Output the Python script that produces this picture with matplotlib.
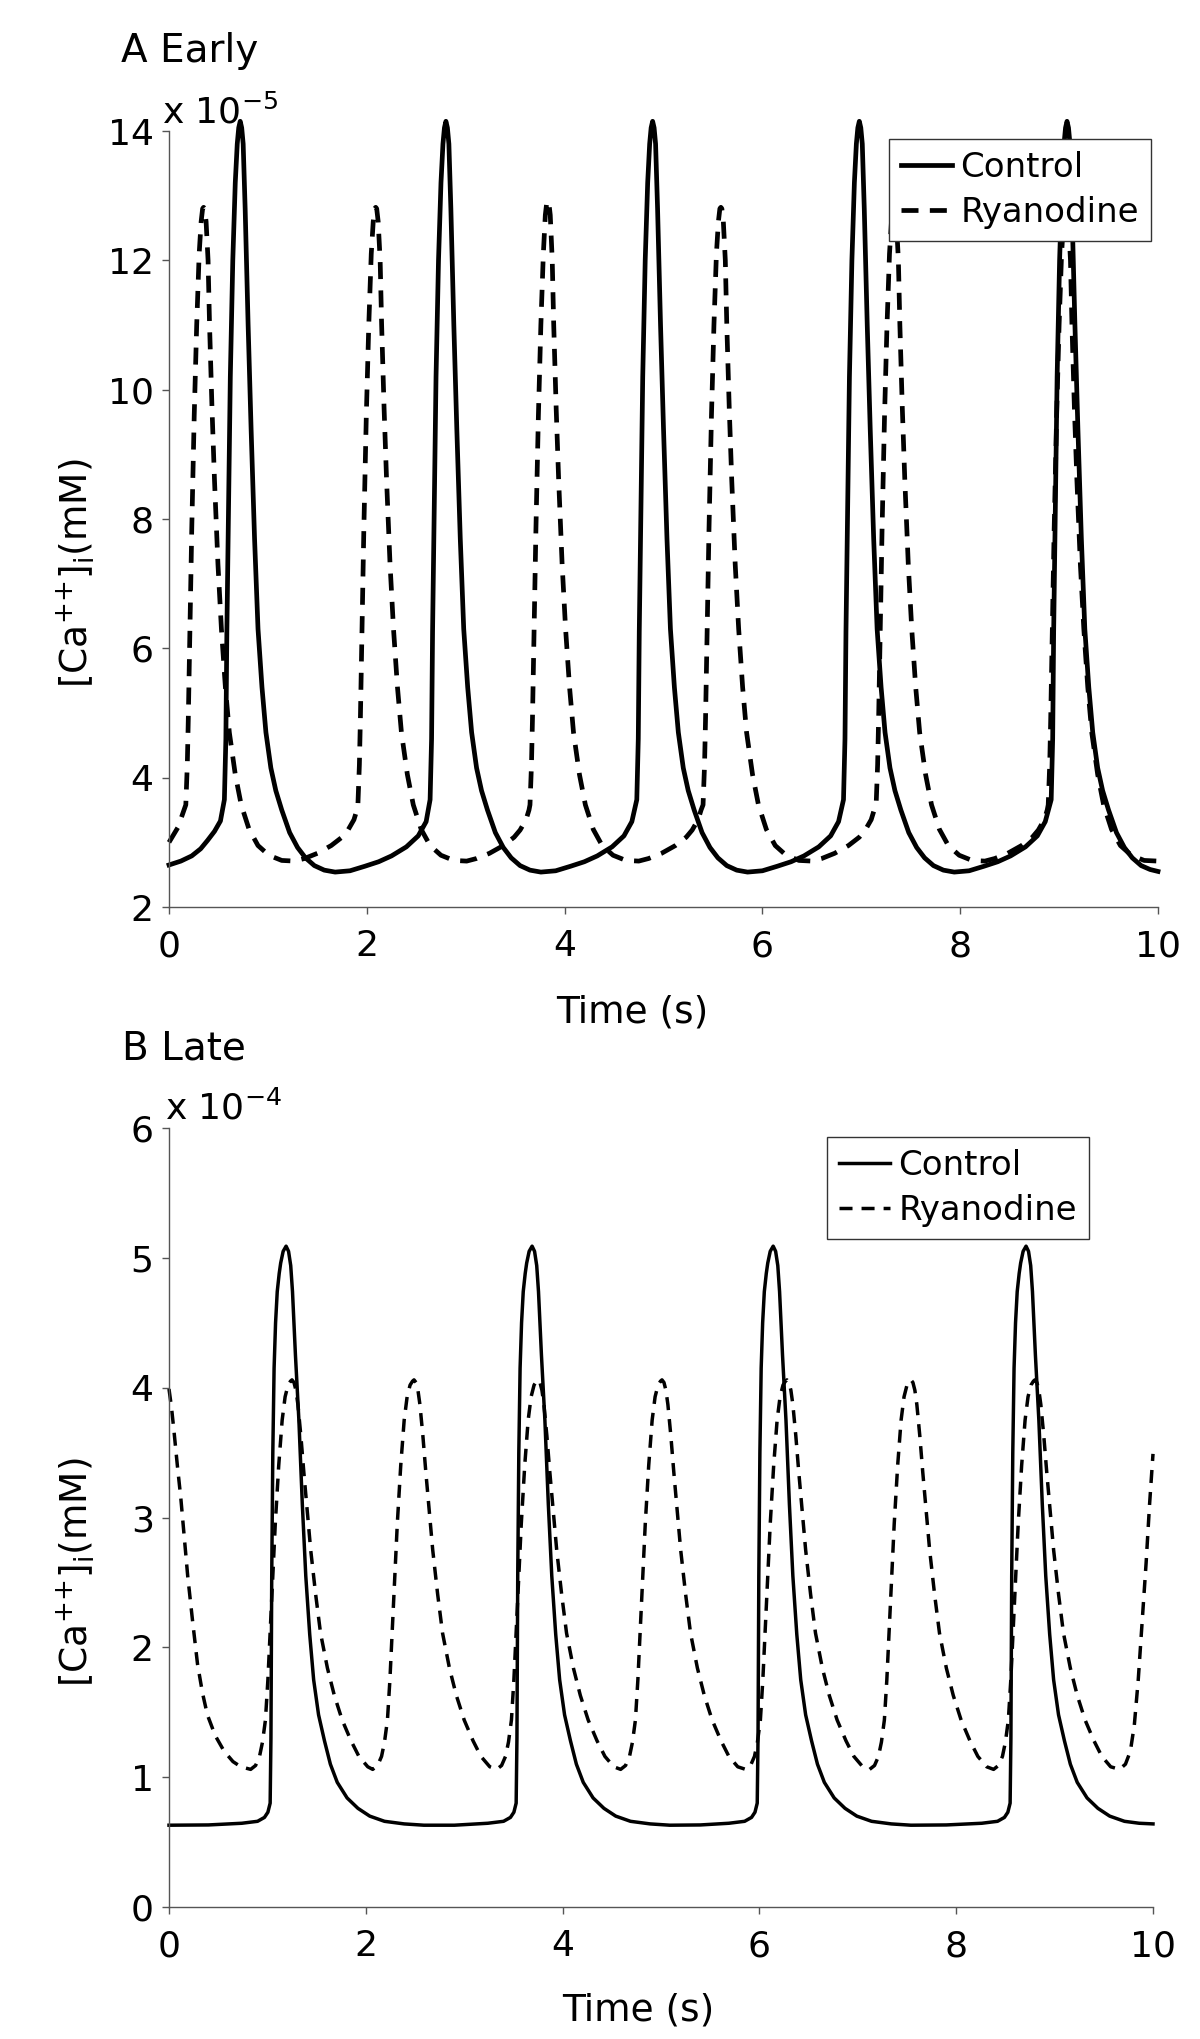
import numpy as np
import matplotlib
matplotlib.use("Agg")
import matplotlib.pyplot as plt

plt.rcParams['font.family'] = ['DejaVu Sans']
plt.rcParams['mathtext.fontset'] = 'dejavusans'

# panel A values are in units of 1e-5 mM, panel B in 1e-4 mM
control_a = [
    (0.00, 2.65), (0.12, 2.71), (0.23, 2.79), (0.32, 2.90), (0.39, 3.03), (0.46, 3.17), (0.52, 3.33),
    (0.56, 3.66), (0.575, 4.6), (0.585, 6.26), (0.605, 8.5), (0.62, 10.2), (0.645, 12.0), (0.67, 13.2),
    (0.69, 13.8), (0.705, 14.05), (0.72, 14.15), (0.735, 14.05), (0.75, 13.8), (0.77, 12.8), (0.80, 11.0),
    (0.83, 9.4), (0.865, 7.7), (0.90, 6.3), (0.94, 5.4), (0.98, 4.7), (1.03, 4.15), (1.08, 3.8),
    (1.14, 3.5), (1.22, 3.15), (1.30, 2.92), (1.38, 2.76), (1.47, 2.64), (1.57, 2.57), (1.68, 2.54),
    (1.83, 2.56), (1.98, 2.63), (2.12, 2.70), (2.25, 2.79), (2.40, 2.93), (2.52, 3.10), (2.60, 3.32),
    (2.64, 3.66), (2.655, 4.6), (2.665, 6.26), (2.685, 8.5), (2.70, 10.2), (2.725, 12.0), (2.75, 13.2),
    (2.77, 13.8), (2.785, 14.05), (2.80, 14.15), (2.815, 14.05), (2.83, 13.8), (2.85, 12.8), (2.88, 11.0),
    (2.91, 9.4), (2.945, 7.7), (2.98, 6.3), (3.02, 5.4), (3.06, 4.7), (3.11, 4.15), (3.16, 3.8),
    (3.22, 3.5), (3.30, 3.15), (3.38, 2.92), (3.46, 2.76), (3.55, 2.64), (3.65, 2.57), (3.76, 2.54),
    (3.91, 2.56), (4.06, 2.63), (4.20, 2.70), (4.33, 2.79), (4.48, 2.93), (4.60, 3.10), (4.68, 3.32),
    (4.73, 3.66), (4.745, 4.6), (4.755, 6.26), (4.775, 8.5), (4.79, 10.2), (4.815, 12.0), (4.84, 13.2),
    (4.86, 13.8), (4.875, 14.05), (4.89, 14.15), (4.905, 14.05), (4.92, 13.8), (4.94, 12.8), (4.97, 11.0),
    (5.00, 9.4), (5.035, 7.7), (5.07, 6.3), (5.11, 5.4), (5.15, 4.7), (5.20, 4.15), (5.25, 3.8),
    (5.31, 3.5), (5.39, 3.15), (5.47, 2.92), (5.55, 2.76), (5.64, 2.64), (5.74, 2.57), (5.85, 2.54),
    (6.00, 2.56), (6.15, 2.63), (6.29, 2.70), (6.42, 2.79), (6.57, 2.93), (6.69, 3.10), (6.77, 3.32),
    (6.82, 3.66), (6.835, 4.6), (6.845, 6.26), (6.865, 8.5), (6.88, 10.2), (6.905, 12.0), (6.93, 13.2),
    (6.95, 13.8), (6.965, 14.05), (6.98, 14.15), (6.995, 14.05), (7.01, 13.8), (7.03, 12.8), (7.06, 11.0),
    (7.09, 9.4), (7.125, 7.7), (7.16, 6.3), (7.20, 5.4), (7.24, 4.7), (7.29, 4.15), (7.34, 3.8),
    (7.40, 3.5), (7.48, 3.15), (7.56, 2.92), (7.64, 2.76), (7.73, 2.64), (7.83, 2.57), (7.94, 2.54),
    (8.09, 2.56), (8.24, 2.63), (8.38, 2.70), (8.51, 2.79), (8.66, 2.93), (8.78, 3.10), (8.86, 3.32),
    (8.92, 3.66), (8.935, 4.6), (8.945, 6.26), (8.965, 8.5), (8.98, 10.2), (9.005, 12.0), (9.03, 13.2),
    (9.05, 13.8), (9.065, 14.05), (9.08, 14.15), (9.095, 14.05), (9.11, 13.8), (9.13, 12.8), (9.16, 11.0),
    (9.19, 9.4), (9.225, 7.7), (9.26, 6.3), (9.30, 5.4), (9.34, 4.7), (9.39, 4.15), (9.44, 3.8),
    (9.50, 3.5), (9.58, 3.15), (9.66, 2.92), (9.74, 2.76), (9.83, 2.64), (9.92, 2.58), (10.0, 2.55),
]

ryanodine_a = [
    (0.00, 3.0), (0.09, 3.23),
    (0.17, 3.58), (0.185, 4.2), (0.195, 4.9), (0.21, 6.2), (0.23, 7.84), (0.255, 9.6), (0.28, 11.0),
    (0.305, 12.1), (0.325, 12.6), (0.34, 12.8), (0.35, 12.82), (0.36, 12.8), (0.375, 12.6), (0.395, 12.0),
    (0.41, 11.0), (0.435, 9.7), (0.46, 8.6), (0.495, 7.3), (0.53, 6.3), (0.57, 5.4), (0.61, 4.7),
    (0.67, 4.05), (0.73, 3.58), (0.81, 3.2), (0.90, 2.95), (1.01, 2.80), (1.14, 2.72), (1.27, 2.71),
    (1.37, 2.75), (1.50, 2.83), (1.64, 2.95), (1.75, 3.08), (1.81, 3.19), (1.87, 3.35), (1.90, 3.5),
    (1.91, 3.58), (1.925, 4.2), (1.935, 4.9), (1.95, 6.2), (1.97, 7.84), (1.995, 9.6), (2.02, 11.0),
    (2.045, 12.1), (2.065, 12.6), (2.08, 12.8), (2.09, 12.82), (2.10, 12.8), (2.115, 12.6), (2.135, 12.0),
    (2.15, 11.0), (2.175, 9.7), (2.20, 8.6), (2.235, 7.3), (2.27, 6.3), (2.31, 5.4), (2.35, 4.7),
    (2.41, 4.05), (2.47, 3.58), (2.55, 3.2), (2.64, 2.95), (2.75, 2.80), (2.88, 2.72), (3.01, 2.71),
    (3.11, 2.75), (3.24, 2.83), (3.38, 2.95), (3.49, 3.08), (3.55, 3.19), (3.61, 3.35), (3.64, 3.5),
    (3.65, 3.58), (3.665, 4.2), (3.675, 4.9), (3.69, 6.2), (3.71, 7.84), (3.735, 9.6), (3.76, 11.0),
    (3.785, 12.1), (3.805, 12.7), (3.82, 12.9), (3.83, 12.92), (3.84, 12.9), (3.855, 12.7), (3.875, 12.0),
    (3.89, 11.0), (3.915, 9.7), (3.94, 8.6), (3.975, 7.3), (4.01, 6.3), (4.05, 5.4), (4.09, 4.7),
    (4.15, 4.05), (4.21, 3.58), (4.29, 3.2), (4.38, 2.95), (4.49, 2.80), (4.62, 2.72), (4.75, 2.71),
    (4.85, 2.75), (4.98, 2.83), (5.12, 2.95), (5.23, 3.08), (5.29, 3.19), (5.35, 3.35), (5.38, 3.5),
    (5.40, 3.58), (5.415, 4.2), (5.425, 4.9), (5.44, 6.2), (5.46, 7.84), (5.485, 9.6), (5.51, 11.0),
    (5.535, 12.1), (5.555, 12.6), (5.57, 12.8), (5.58, 12.82), (5.59, 12.8), (5.605, 12.6), (5.625, 12.0),
    (5.64, 11.0), (5.665, 9.7), (5.69, 8.6), (5.725, 7.3), (5.76, 6.3), (5.80, 5.4), (5.84, 4.7),
    (5.90, 4.05), (5.96, 3.58), (6.04, 3.2), (6.13, 2.95), (6.24, 2.80), (6.37, 2.72), (6.50, 2.71),
    (6.60, 2.75), (6.73, 2.83), (6.87, 2.95), (6.98, 3.08), (7.04, 3.19), (7.10, 3.35), (7.13, 3.5),
    (7.15, 3.58), (7.165, 4.2), (7.175, 4.9), (7.19, 6.2), (7.21, 7.84), (7.235, 9.6), (7.26, 11.0),
    (7.285, 12.1), (7.305, 12.6), (7.32, 12.8), (7.33, 12.82), (7.34, 12.8), (7.355, 12.6), (7.375, 12.0),
    (7.39, 11.0), (7.415, 9.7), (7.44, 8.6), (7.475, 7.3), (7.51, 6.3), (7.55, 5.4), (7.59, 4.7),
    (7.65, 4.05), (7.71, 3.58), (7.79, 3.2), (7.88, 2.95), (7.99, 2.80), (8.12, 2.72), (8.25, 2.71),
    (8.35, 2.75), (8.48, 2.83), (8.62, 2.95), (8.73, 3.08), (8.79, 3.19), (8.85, 3.35), (8.88, 3.5),
    (8.89, 3.58), (8.905, 4.2), (8.915, 4.9), (8.93, 6.2), (8.95, 7.84), (8.975, 9.6), (9.00, 11.0),
    (9.025, 12.1), (9.045, 12.6), (9.06, 12.8), (9.07, 12.82), (9.08, 12.8), (9.095, 12.6), (9.115, 12.0),
    (9.13, 11.0), (9.155, 9.7), (9.18, 8.6), (9.215, 7.3), (9.25, 6.3), (9.29, 5.4), (9.33, 4.7),
    (9.39, 4.05), (9.45, 3.58), (9.53, 3.2), (9.62, 2.95), (9.73, 2.80), (9.86, 2.72), (10.0, 2.71),
]

control_b = [
    (0.00, 0.63), (0.40, 0.632), (0.74, 0.645),
    (0.90, 0.66), (0.97, 0.69), (1.005, 0.73), (1.028, 0.80), (1.036, 1.3), (1.044, 2.55), (1.055, 3.5),
    (1.068, 4.15), (1.083, 4.5), (1.10, 4.74), (1.12, 4.88), (1.135, 4.96), (1.16, 5.05), (1.19, 5.09),
    (1.215, 5.05), (1.237, 4.94), (1.255, 4.74), (1.285, 4.25), (1.32, 3.75), (1.355, 3.1), (1.39, 2.55),
    (1.43, 2.1), (1.47, 1.75), (1.52, 1.48), (1.58, 1.28), (1.64, 1.1), (1.71, 0.96), (1.81, 0.84),
    (1.92, 0.76), (2.04, 0.70), (2.19, 0.66), (2.39, 0.64), (2.59, 0.63), (2.90, 0.63), (3.24, 0.645),
    (3.40, 0.66), (3.47, 0.69), (3.505, 0.73), (3.528, 0.80), (3.536, 1.3), (3.544, 2.55), (3.555, 3.5),
    (3.568, 4.15), (3.583, 4.5), (3.60, 4.74), (3.62, 4.88), (3.635, 4.96), (3.66, 5.05), (3.69, 5.09),
    (3.715, 5.05), (3.737, 4.94), (3.755, 4.74), (3.785, 4.25), (3.82, 3.75), (3.855, 3.1), (3.89, 2.55),
    (3.93, 2.1), (3.97, 1.75), (4.02, 1.48), (4.08, 1.28), (4.14, 1.1), (4.21, 0.96), (4.31, 0.84),
    (4.42, 0.76), (4.54, 0.70), (4.69, 0.66), (4.89, 0.64), (5.09, 0.63), (5.40, 0.632), (5.69, 0.645),
    (5.85, 0.66), (5.92, 0.69), (5.955, 0.73), (5.978, 0.80), (5.986, 1.3), (5.994, 2.55), (6.005, 3.5),
    (6.018, 4.15), (6.033, 4.5), (6.05, 4.74), (6.07, 4.88), (6.085, 4.96), (6.11, 5.05), (6.14, 5.09),
    (6.165, 5.05), (6.187, 4.94), (6.205, 4.74), (6.235, 4.25), (6.27, 3.75), (6.305, 3.1), (6.34, 2.55),
    (6.38, 2.1), (6.42, 1.75), (6.47, 1.48), (6.53, 1.28), (6.59, 1.1), (6.66, 0.96), (6.76, 0.84),
    (6.87, 0.76), (6.99, 0.70), (7.14, 0.66), (7.34, 0.64), (7.54, 0.63), (7.90, 0.632), (8.26, 0.645),
    (8.42, 0.66), (8.49, 0.69), (8.525, 0.73), (8.548, 0.80), (8.556, 1.3), (8.564, 2.55), (8.575, 3.5),
    (8.588, 4.15), (8.603, 4.5), (8.62, 4.74), (8.64, 4.88), (8.655, 4.96), (8.68, 5.05), (8.71, 5.09),
    (8.735, 5.05), (8.757, 4.94), (8.775, 4.74), (8.805, 4.25), (8.84, 3.75), (8.875, 3.1), (8.91, 2.55),
    (8.95, 2.1), (8.99, 1.75), (9.04, 1.48), (9.10, 1.28), (9.16, 1.1), (9.23, 0.96), (9.33, 0.84),
    (9.44, 0.76), (9.56, 0.70), (9.71, 0.66), (9.86, 0.645), (10.0, 0.64),
]

ryanodine_b = [
    (0.00, 3.99), (0.025, 3.85), (0.05, 3.67), (0.085, 3.4), (0.12, 3.15), (0.155, 2.85), (0.19, 2.55),
    (0.24, 2.2), (0.29, 1.87), (0.34, 1.65), (0.39, 1.48), (0.47, 1.32), (0.56, 1.20), (0.65, 1.12),
    (0.73, 1.08),
    (0.83, 1.06), (0.88, 1.09), (0.92, 1.16), (0.95, 1.27), (0.98, 1.44), (1.005, 1.75), (1.03, 2.15),
    (1.055, 2.55), (1.08, 2.95), (1.115, 3.4), (1.15, 3.75), (1.18, 3.93), (1.21, 4.02), (1.235, 4.05),
    (1.25, 4.06), (1.27, 4.04), (1.29, 3.98), (1.31, 3.87), (1.34, 3.63), (1.37, 3.35), (1.405, 3.05),
    (1.44, 2.75), (1.49, 2.41), (1.54, 2.11), (1.61, 1.84), (1.68, 1.63), (1.76, 1.44), (1.85, 1.28),
    (1.93, 1.16), (2.02, 1.08),
    (2.07, 1.06), (2.12, 1.09), (2.16, 1.16), (2.19, 1.27), (2.22, 1.44), (2.245, 1.75), (2.27, 2.15),
    (2.295, 2.55), (2.32, 2.95), (2.355, 3.4), (2.39, 3.75), (2.42, 3.93), (2.45, 4.02), (2.475, 4.05),
    (2.49, 4.06), (2.51, 4.04), (2.53, 3.98), (2.55, 3.87), (2.58, 3.63), (2.61, 3.35), (2.645, 3.05),
    (2.68, 2.75), (2.73, 2.41), (2.78, 2.11), (2.85, 1.84), (2.92, 1.63), (3.00, 1.44), (3.09, 1.28),
    (3.17, 1.16), (3.26, 1.08),
    (3.33, 1.06), (3.38, 1.09), (3.42, 1.16), (3.45, 1.27), (3.48, 1.44), (3.505, 1.75), (3.53, 2.15),
    (3.555, 2.55), (3.58, 2.95), (3.615, 3.4), (3.65, 3.75), (3.68, 3.93), (3.71, 4.02), (3.735, 4.05),
    (3.75, 4.06), (3.77, 4.04), (3.79, 3.98), (3.81, 3.87), (3.84, 3.63), (3.87, 3.35), (3.905, 3.05),
    (3.94, 2.75), (3.99, 2.41), (4.04, 2.11), (4.11, 1.84), (4.18, 1.63), (4.26, 1.44), (4.35, 1.28),
    (4.43, 1.16), (4.52, 1.08),
    (4.59, 1.06), (4.64, 1.09), (4.68, 1.16), (4.71, 1.27), (4.74, 1.44), (4.765, 1.75), (4.79, 2.15),
    (4.815, 2.55), (4.84, 2.95), (4.875, 3.4), (4.91, 3.75), (4.94, 3.93), (4.97, 4.02), (4.995, 4.05),
    (5.01, 4.06), (5.03, 4.04), (5.05, 3.98), (5.07, 3.87), (5.10, 3.63), (5.13, 3.35), (5.165, 3.05),
    (5.20, 2.75), (5.25, 2.41), (5.30, 2.11), (5.37, 1.84), (5.44, 1.63), (5.52, 1.44), (5.61, 1.28),
    (5.69, 1.16), (5.78, 1.08),
    (5.86, 1.06), (5.91, 1.09), (5.95, 1.16), (5.98, 1.27), (6.01, 1.44), (6.035, 1.75), (6.06, 2.15),
    (6.085, 2.55), (6.11, 2.95), (6.145, 3.4), (6.18, 3.75), (6.21, 3.93), (6.24, 4.02), (6.265, 4.05),
    (6.28, 4.06), (6.30, 4.04), (6.32, 3.98), (6.34, 3.87), (6.37, 3.63), (6.40, 3.35), (6.435, 3.05),
    (6.47, 2.75), (6.52, 2.41), (6.57, 2.11), (6.64, 1.84), (6.71, 1.63), (6.79, 1.44), (6.88, 1.28),
    (6.96, 1.16), (7.05, 1.08),
    (7.12, 1.06), (7.17, 1.09), (7.21, 1.16), (7.24, 1.27), (7.27, 1.44), (7.295, 1.75), (7.32, 2.15),
    (7.345, 2.55), (7.37, 2.95), (7.405, 3.4), (7.44, 3.75), (7.47, 3.93), (7.50, 4.02), (7.525, 4.05),
    (7.54, 4.06), (7.56, 4.04), (7.58, 3.98), (7.60, 3.87), (7.63, 3.63), (7.66, 3.35), (7.695, 3.05),
    (7.73, 2.75), (7.78, 2.41), (7.83, 2.11), (7.90, 1.84), (7.97, 1.63), (8.05, 1.44), (8.14, 1.28),
    (8.22, 1.16), (8.31, 1.08),
    (8.38, 1.06), (8.43, 1.09), (8.47, 1.16), (8.50, 1.27), (8.53, 1.44), (8.555, 1.75), (8.58, 2.15),
    (8.605, 2.55), (8.63, 2.95), (8.665, 3.4), (8.70, 3.75), (8.73, 3.93), (8.76, 4.02), (8.785, 4.05),
    (8.80, 4.06), (8.82, 4.04), (8.84, 3.98), (8.86, 3.87), (8.89, 3.63), (8.92, 3.35), (8.955, 3.05),
    (8.99, 2.75), (9.04, 2.41), (9.09, 2.11), (9.16, 1.84), (9.23, 1.63), (9.31, 1.44), (9.40, 1.28),
    (9.48, 1.16), (9.57, 1.08),
    (9.66, 1.06), (9.72, 1.10), (9.77, 1.2), (9.81, 1.4), (9.85, 1.75), (9.89, 2.2), (9.93, 2.65),
    (9.965, 3.1), (10.0, 3.49),
]

xticks = [0, 2, 4, 6, 8, 10]
yticks_a = [2, 4, 6, 8, 10, 12, 14]
yticks_b = [0, 1, 2, 3, 4, 5, 6]
labels = ["Control", "Ryanodine"]

W, H = 1200, 2039
fig = plt.figure(figsize=(W / 100, H / 100), dpi=100)
axA = fig.add_axes([169 / W, 1 - 907 / H, 989 / W, 776 / H])
axB = fig.add_axes([169 / W, 1 - 1907 / H, 984 / W, 779 / H])

spine_col = '#555555'


def style(ax, yticks, ylim):
    ax.set_xlim(0, 10)
    ax.set_ylim(*ylim)
    ax.set_xticks(xticks)
    ax.set_yticks(yticks)
    for s in ['top', 'right']:
        ax.spines[s].set_visible(False)
    for s in ['left', 'bottom']:
        ax.spines[s].set_color(spine_col)
        ax.spines[s].set_linewidth(1.0)
    ax.tick_params(axis='both', direction='out', length=5, width=1.0, color=spine_col,
                   labelsize=26, labelcolor='black')
    ax.tick_params(axis='x', pad=11)
    ax.tick_params(axis='y', pad=6)
    ax.set_ylabel(r'[Ca$^{{+}{+}}$]$_{\mathrm{i}}$(mM)', fontsize=27)
    # label sits a bit below the axes centre in the original
    ax.yaxis.set_label_coords(-0.073, 0.43)
    ax.set_xlabel('Time (s)', fontsize=27, va='top')


def add_legend(ax, anchor):
    ax.legend(loc='upper right', bbox_to_anchor=anchor, bbox_transform=fig.transFigure,
              borderaxespad=0, fancybox=False, edgecolor='#333333', framealpha=1,
              fontsize=24.5, handlelength=1.5, handletextpad=0.25, labelspacing=0.35,
              borderpad=0.35)


# panel A
t, v = np.array(control_a).T
axA.plot(t, v, color='black', lw=3.4, clip_on=False, label=labels[0])
t, v = np.array(ryanodine_a).T
axA.plot(t, v, color='black', lw=3.4, ls=(0, (3.6, 2.4)), clip_on=False, label=labels[1])
style(axA, yticks_a, (2, 14))
axA.xaxis.set_label_coords(0.468, -0.113)
axA.text(-0.007, 1.0 + 8 / 776, r'x 10$^{-5}$', transform=axA.transAxes,
         ha='left', va='baseline', fontsize=26)
add_legend(axA, (1151 / W, 1 - 139 / H))

# panel B
t, v = np.array(control_b).T
axB.plot(t, v, color='black', lw=2.5, clip_on=False, label=labels[0])
t, v = np.array(ryanodine_b).T
axB.plot(t, v, color='black', lw=2.5, ls=(0, (3.75, 2.6)), clip_on=False, label=labels[1])
style(axB, yticks_b, (0, 6))
axB.xaxis.set_label_coords(0.477, -0.110)
axB.text(-0.004, 1.0 + 8 / 779, r'x 10$^{-4}$', transform=axB.transAxes,
         ha='left', va='baseline', fontsize=26)
add_legend(axB, (1089 / W, 1 - 1137 / H))

fig.text(121 / W, 1 - 62 / H, 'A Early', fontsize=28, ha='left', va='baseline')
fig.text(122 / W, 1 - 1059 / H, 'B Late', fontsize=28, ha='left', va='baseline')

fig.savefig('out.png', dpi=100, facecolor='white')
